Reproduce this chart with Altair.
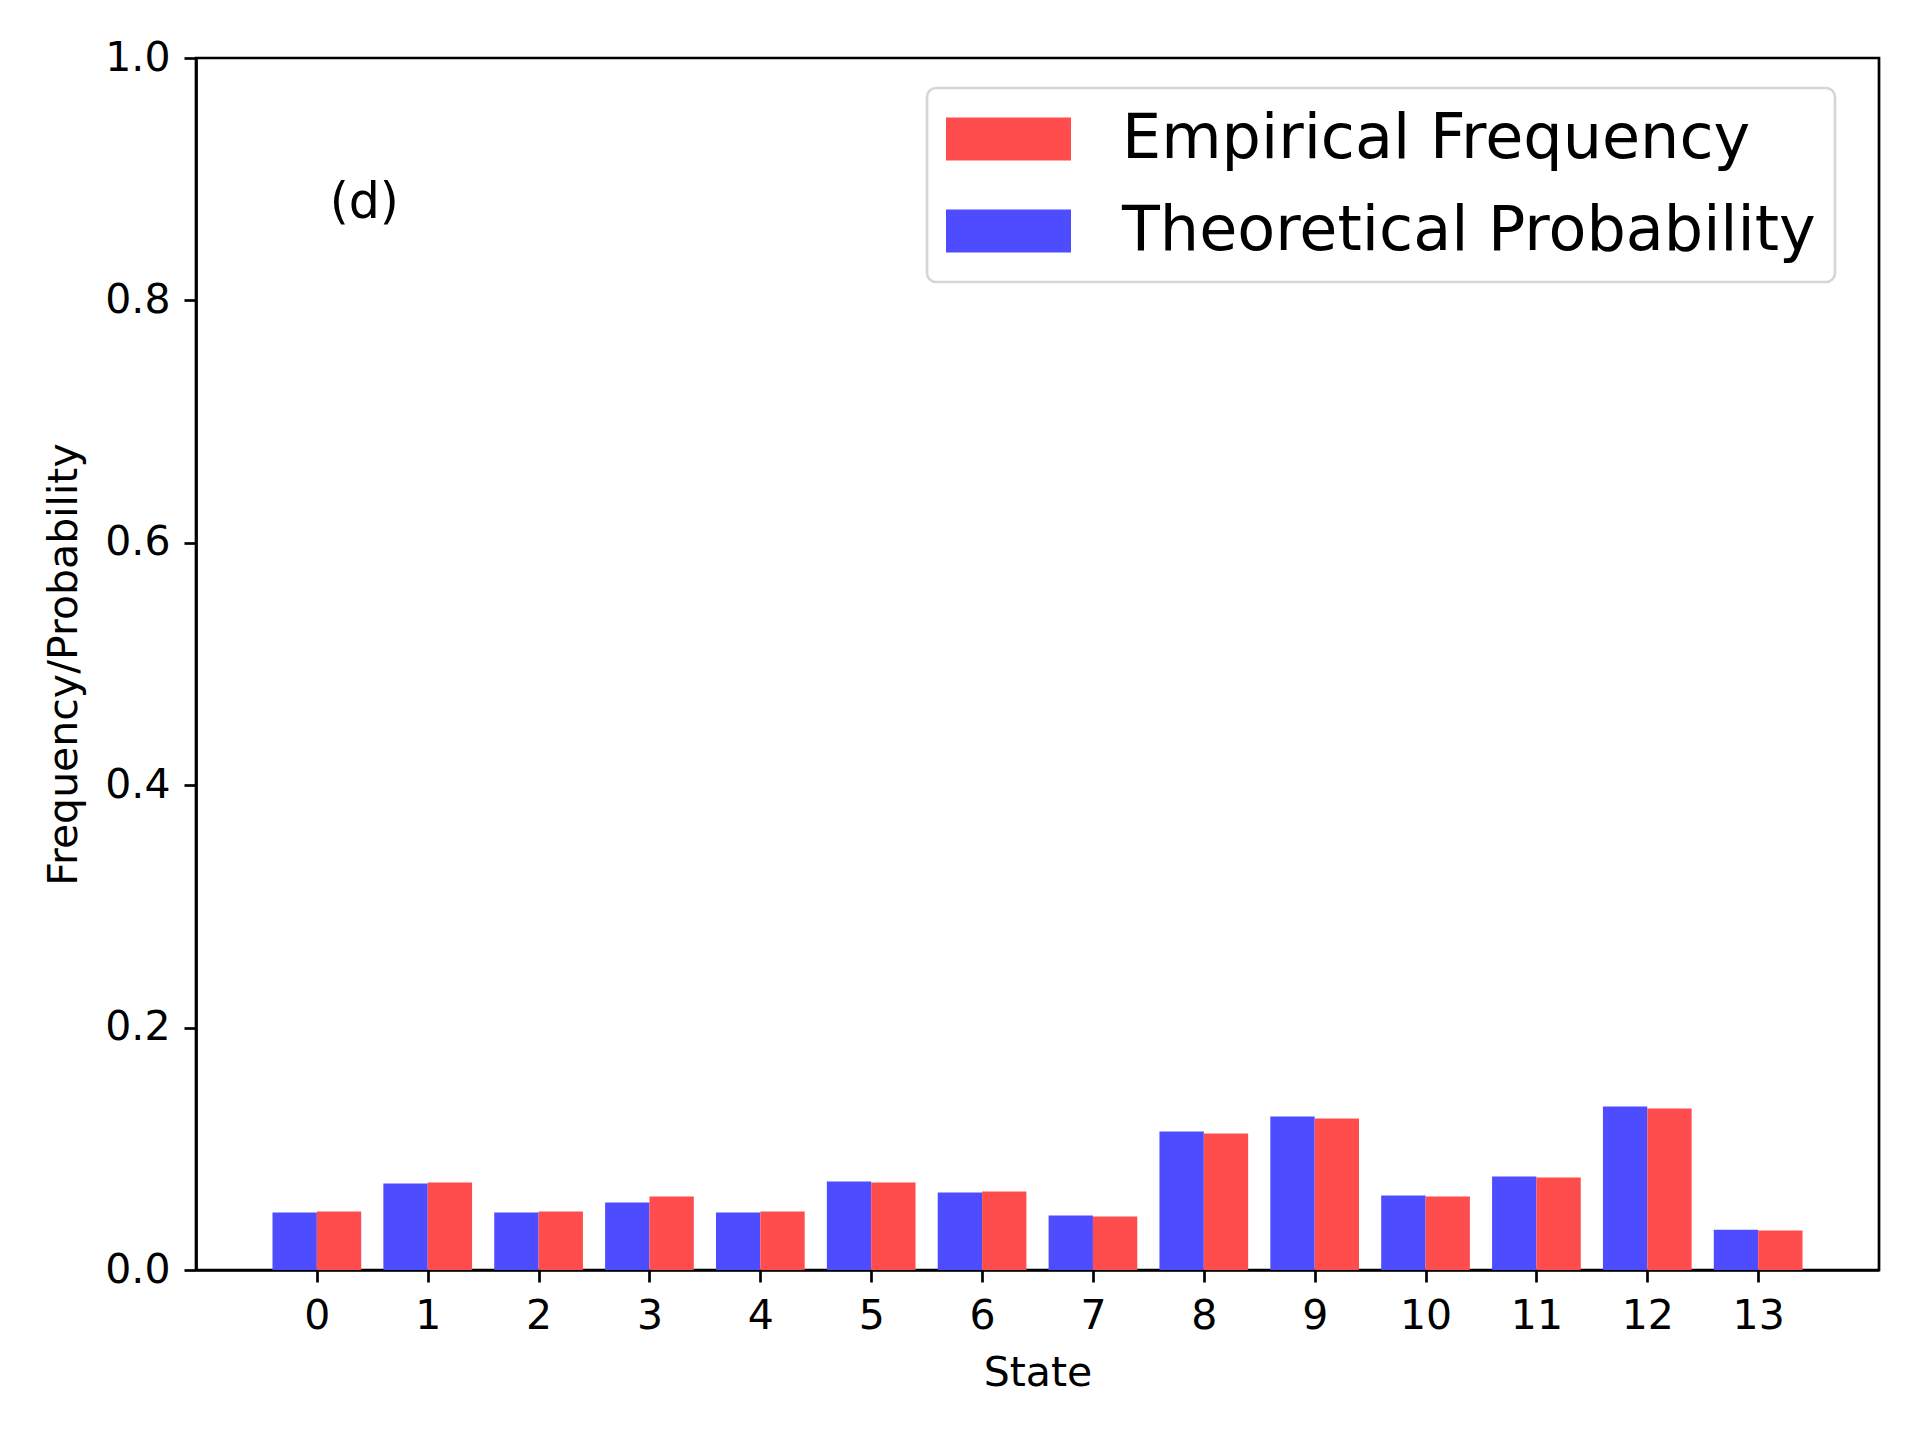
import altair as alt
import pandas as pd

states = list(range(14))
theoretical = [0.0474, 0.0713, 0.0474, 0.0556, 0.0474, 0.0731, 0.0639, 0.0449,
               0.1143, 0.1267, 0.0614, 0.0771, 0.1350, 0.0333]
empirical = [0.0482, 0.0722, 0.0482, 0.0606, 0.0482, 0.0722, 0.0647, 0.0441,
             0.1127, 0.1251, 0.0606, 0.0763, 0.1333, 0.0325]
series_names = ["Empirical Frequency", "Theoretical Probability"]
series_colors = ["#ff4d4d", "#4d4dff"]
y_ticks = [0.0, 0.2, 0.4, 0.6, 0.8, 1.0]
panel_label = "(d)"

rows = []
for s, t, e in zip(states, theoretical, empirical):
    rows.append({"state": s, "value": t, "series": series_names[1]})
    rows.append({"state": s, "value": e, "series": series_names[0]})
df = pd.DataFrame(rows)

W, H = 1683, 1212
FONT = "DejaVu Sans"
FS = 41
BAR_W = 0.4

xscale = alt.Scale(domain=[-1.09, 14.09], nice=False, zero=False)
yscale = alt.Scale(domain=[0, 1], nice=False)

rect_path = "M-1,-0.344L1,-0.344L1,0.344L-1,0.344Z"

common_axis = dict(grid=False, labelFontSize=FS, titleFontSize=FS, labelFont=FONT,
                   titleFont=FONT, titleFontWeight="normal", tickSize=12, tickWidth=2.7,
                   domainWidth=2.7, domainColor="black", tickColor="black",
                   labelColor="black", titleColor="black", labelFlush=False)

bars = alt.Chart(df).transform_calculate(
    x0=f"datum.series == '{series_names[1]}' ? datum.state - {BAR_W} : datum.state",
    x1=f"datum.series == '{series_names[1]}' ? datum.state : datum.state + {BAR_W}",
).mark_bar(opacity=1).encode(
    x=alt.X("x0:Q", scale=xscale,
            axis=alt.Axis(values=states, format="d", title="State",
                          labelPadding=14, titlePadding=17, **common_axis)),
    x2="x1:Q",
    y=alt.Y("value:Q", scale=yscale,
            axis=alt.Axis(values=y_ticks, format=".1f", title="Frequency/Probability",
                          labelPadding=14, titlePadding=19, **common_axis)),
    y2=alt.datum(0),
    color=alt.Color("series:N",
                    scale=alt.Scale(domain=series_names, range=series_colors),
                    legend=alt.Legend(title=None, orient="none", legendX=731, legendY=30,
                                      symbolType=rect_path, symbolSize=15625,
                                      symbolStrokeWidth=0, symbolOpacity=1,
                                      labelFontSize=62, labelFont=FONT, labelColor="black",
                                      labelOffset=51, padding=19,
                                      fillColor="white", strokeColor="#d6d6d6",
                                      cornerRadius=9, labelLimit=0)),
)

label = alt.Chart(pd.DataFrame({"t": [panel_label]})).mark_text(
    fontSize=49, font=FONT, color="black", align="center", baseline="top"
).encode(x=alt.value(0.1 * W), y=alt.value(0.1 * H), text="t:N")

chart = alt.layer(bars, label).properties(
    width=W, height=H,
    background="white",
    autosize=alt.AutoSizeParams(type="none"),
    padding={"left": 188, "top": 50, "right": 25, "bottom": 157},
).configure_view(stroke="black", strokeWidth=2.7).configure_legend(
    rowPadding=28, strokeWidth=2.7, clipHeight=64
)

chart.save("out.html", embed_options={"renderer": "svg", "actions": False})
